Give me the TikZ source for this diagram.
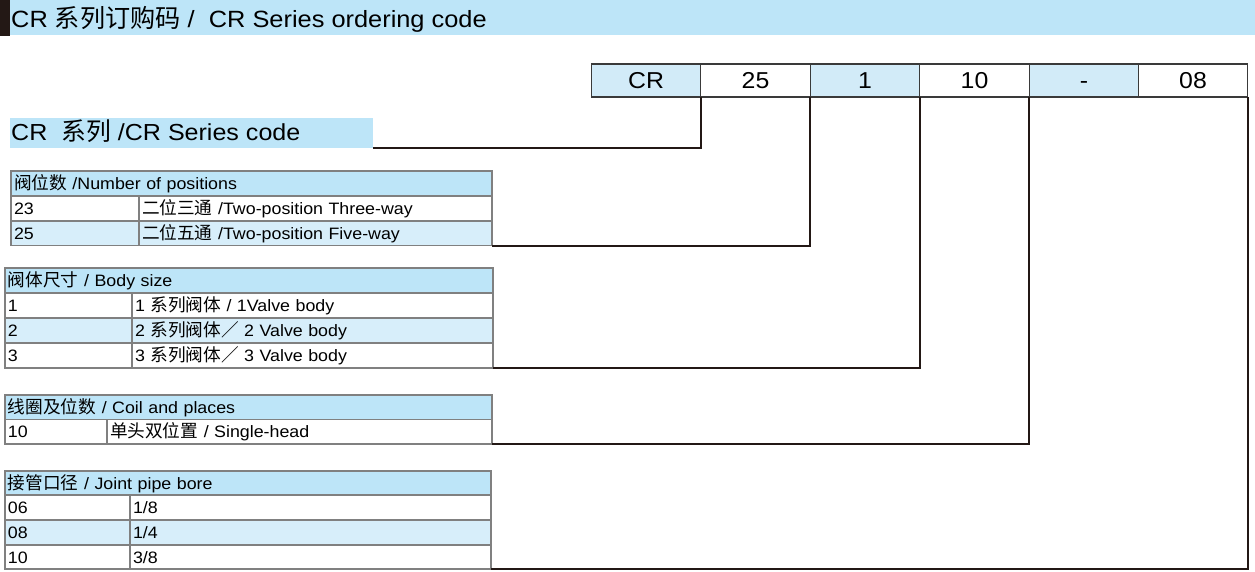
\documentclass[tikz,border=0pt]{standalone}
\usepackage{fontspec}
\setmainfont[FakeStretch=1.08]{Liberation Sans}
\newfontfamily\cjk[Scale=1.07]{Noto Sans CJK SC}
\newcommand\zhtxt[1]{{\cjk #1}}
\definecolor{hdrblue}{HTML}{BDE5F8}
\definecolor{rowblue}{HTML}{D7EEFA}
\definecolor{boxblue}{HTML}{D2EBF8}
\definecolor{gridgray}{HTML}{808080}
\definecolor{inkdark}{HTML}{231815}
\definecolor{boxline}{HTML}{3A3A3A}
\tikzset{
  cell/.style={draw=gridgray, line width=1.1pt, anchor=north west, inner xsep=3pt, inner ysep=0pt,
    outer sep=0pt, align=left, text height=12pt, text depth=0pt, font=\fontsize{16.5}{19}\selectfont},
  codebox/.style={draw=boxline, line width=1.4pt, minimum width=109.5pt, minimum height=33pt,
    inner sep=0pt, outer sep=0pt, text height=16.5pt, text depth=0pt, font=\fontsize{23}{26}\selectfont},
  conn/.style={draw=inkdark, line width=2pt},
  bar/.style={fill=hdrblue, anchor=north west, inner sep=0pt, outer sep=0pt},
}
\begin{document}
\begin{tikzpicture}[x=1pt,y=-1pt]
\useasboundingbox (0,0) rectangle (1255,571);
% title bar
\node[bar, minimum width=1245pt, minimum height=35pt] (titlebar) at (10,0) {};
\node[fill=inkdark, anchor=north west, inner sep=0pt, outer sep=0pt, minimum width=10pt, minimum height=36pt] (titlemark) at (0,0) {};
\node[anchor=base west, inner sep=0pt, font=\fontsize{23.5}{26}\selectfont] (titletext) at (11,27)
  {CR\ \zhtxt{系列订购码} /\ \ CR Series ordering code};
% series bar
\node[bar, minimum width=363pt, minimum height=30pt] (secbar) at (10,118) {};
\node[anchor=base west, inner sep=0pt, font=\fontsize{23.2}{26}\selectfont] (sectext) at (11,140)
  {CR\ \ \zhtxt{系列} /CR Series code};
% code boxes
\node[codebox, fill=boxblue] (bCR) at (646,80.5) {CR};
\node[codebox, fill=white] (b25) at (755.5,80.5) {25};
\node[codebox, fill=boxblue] (b1) at (865,80.5) {1};
\node[codebox, fill=white] (b10) at (974.5,80.5) {10};
\node[codebox, fill=boxblue] (bdash) at (1084,80.5) {-};
\node[codebox, fill=white] (b08) at (1193,80.5) {08};
% table 1
\node[cell, fill=hdrblue, text width=475pt, minimum height=25pt] (t1h) at (11,171) {\zhtxt{阀位数} /Number of positions};
\node[cell, fill=white, text width=122pt, minimum height=25pt] (t1a1) at (11,196) {23};
\node[cell, fill=white, text width=347pt, minimum height=25pt] (t1b1) at (139,196) {\zhtxt{二位三通} /Two-position Three-way};
\node[cell, fill=rowblue, text width=122pt, minimum height=24.5pt] (t1a2) at (11,221) {25};
\node[cell, fill=rowblue, text width=347pt, minimum height=24.5pt] (t1b2) at (139,221) {\zhtxt{二位五通} /Two-position Five-way};
% table 2
\node[cell, fill=hdrblue, text width=482pt, minimum height=25pt] (t2h) at (5,268) {\zhtxt{阀体尺寸} / Body size};
\node[cell, fill=white, text width=121pt, minimum height=25pt] (t2a1) at (5,293) {1};
\node[cell, fill=white, text width=355pt, minimum height=25pt] (t2b1) at (132,293) {1 \zhtxt{系列阀体} / 1Valve body};
\node[cell, fill=rowblue, text width=121pt, minimum height=25pt] (t2a2) at (5,318) {2};
\node[cell, fill=rowblue, text width=355pt, minimum height=25pt] (t2b2) at (132,318) {2 \zhtxt{系列阀体／} 2 Valve body};
\node[cell, fill=white, text width=121pt, minimum height=25pt] (t2a3) at (5,343) {3};
\node[cell, fill=white, text width=355pt, minimum height=25pt] (t2b3) at (132,343) {3 \zhtxt{系列阀体／} 3 Valve body};
% table 3
\node[cell, fill=hdrblue, text width=481pt, minimum height=24.5pt] (t3h) at (5,395) {\zhtxt{线圈及位数} / Coil and places};
\node[cell, fill=white, text width=96pt, minimum height=24.5pt] (t3a1) at (5,419.5) {10};
\node[cell, fill=white, text width=379pt, minimum height=24.5pt] (t3b1) at (107,419.5) {\zhtxt{单头双位置} / Single-head};
% table 4
\node[cell, fill=hdrblue, text width=480pt, minimum height=24pt] (t4h) at (5,471) {\zhtxt{接管口径} / Joint pipe bore};
\node[cell, fill=white, text width=119pt, minimum height=25pt] (t4a1) at (5,495) {06};
\node[cell, fill=white, text width=355pt, minimum height=25pt] (t4b1) at (130,495) {1/8};
\node[cell, fill=rowblue, text width=119pt, minimum height=25pt] (t4a2) at (5,520) {08};
\node[cell, fill=rowblue, text width=355pt, minimum height=25pt] (t4b2) at (130,520) {1/4};
\node[cell, fill=white, text width=119pt, minimum height=24pt] (t4a3) at (5,545) {10};
\node[cell, fill=white, text width=355pt, minimum height=24pt] (t4b3) at (130,545) {3/8};
% connectors
\draw[conn] (secbar.south east) -| (bCR.south east);
\draw[conn] (t1b2.south east) -| (b25.south east);
\draw[conn] (t2b3.south east) -| (b1.south east);
\draw[conn] (t3b1.south east) -| (b10.south east);
\draw[conn] (t4b3.south east) -| (b08.south east);
\end{tikzpicture}
\end{document}
